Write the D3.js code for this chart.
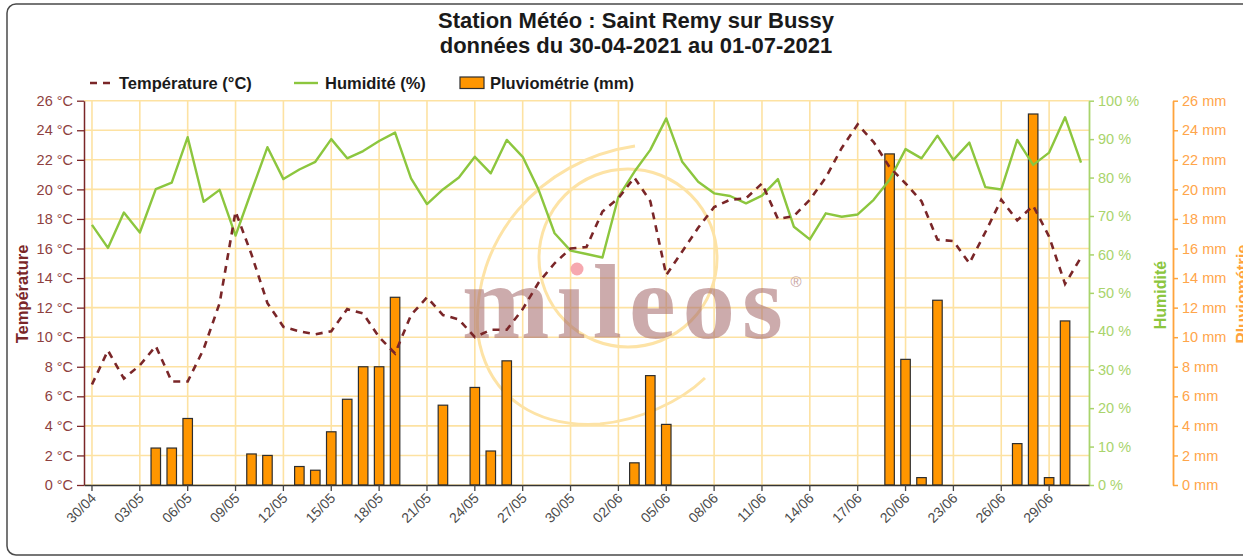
<!DOCTYPE html>
<html><head><meta charset="utf-8">
<script src="https://cdn.jsdelivr.net/npm/d3@7/dist/d3.min.js"></script>
<style>
body{margin:0;background:#fff;overflow:hidden}
svg{display:block}
text{font-family:"Liberation Sans",Arial,sans-serif}
</style>
</head><body>
<svg id="c" width="1243" height="557"></svg>
<script>
const dates = ["30/04","01/05","02/05","03/05","04/05","05/05","06/05","07/05","08/05","09/05",
"10/05","11/05","12/05","13/05","14/05","15/05","16/05","17/05","18/05","19/05",
"20/05","21/05","22/05","23/05","24/05","25/05","26/05","27/05","28/05","29/05",
"30/05","31/05","01/06","02/06","03/06","04/06","05/06","06/06","07/06","08/06",
"09/06","10/06","11/06","12/06","13/06","14/06","15/06","16/06","17/06","18/06",
"19/06","20/06","21/06","22/06","23/06","24/06","25/06","26/06","27/06","28/06",
"29/06","30/06","01/07"];
const xTickDates = ["30/04","03/05","06/05","09/05","12/05","15/05","18/05","21/05","24/05","27/05",
"30/05","02/06","05/06","08/06","11/06","14/06","17/06","20/06","23/06","26/06","29/06"];
const temperature = [6.8,9.1,7.2,8.1,9.4,7.0,7.0,9.2,12.3,18.5,
15.6,12.3,10.7,10.4,10.2,10.4,11.9,11.6,10.0,8.9,
11.5,12.7,11.5,11.2,10.0,10.5,10.5,11.9,13.7,15.0,
16.0,16.1,18.5,19.4,20.8,19.2,14.2,15.8,17.4,18.8,
19.3,19.4,20.4,18.0,18.2,19.3,20.8,22.8,24.4,23.2,
21.5,20.4,19.2,16.6,16.5,15.0,17.1,19.3,17.9,18.9,
16.8,13.6,15.4];
const humidity = [67.7,61.7,70.9,65.7,77.0,78.7,90.5,73.7,76.8,64.9,
76.5,87.9,79.6,82.1,84.1,90.0,85.0,86.9,89.5,91.7,
79.8,73.1,76.9,80.0,85.4,81.1,89.8,85.4,76.8,65.5,
61.0,60.1,59.2,75.0,81.5,87.2,95.4,84.1,78.9,75.9,
75.2,73.3,75.3,79.6,67.2,63.9,70.7,69.8,70.4,74.2,
79.4,87.4,85.0,90.9,84.6,89.1,77.5,76.9,89.8,83.3,
86.5,95.7,83.9];
const rain = [0,0,0,0,2.5,2.5,4.5,0,0,0,
2.1,2.0,0,1.25,1.0,3.6,5.8,8.0,8.0,12.7,
0,0,5.4,0,6.6,2.3,8.4,0,0,0,
0,0,0,0,1.5,7.4,4.1,0,0,0,
0,0,0,0,0,0,0,0,0,0,
22.4,8.5,0.5,12.5,0,0,0,0,2.8,25.1,
0.5,11.1,0];
const tempTicks = [0,2,4,6,8,10,12,14,16,18,20,22,24,26];
const humTicks = [0,10,20,30,40,50,60,70,80,90,100];
const rainTicks = [0,2,4,6,8,10,12,14,16,18,20,22,24,26];
const titleLines = ["Station Météo : Saint Remy sur Bussy","données du 30-04-2021 au 01-07-2021"];

const svg = d3.select("#c");
const L = 84, R = 1089, T = 100.7, B = 485;
const x = d3.scaleBand().domain(dates).range([L, R]).padding(0);
const cx = d => x(d) + x.bandwidth() / 2;
const yT = d3.scaleLinear().domain([0, 26]).range([B, T]);
const yH = d3.scaleLinear().domain([0, 100]).range([B, T]);
const yR = d3.scaleLinear().domain([0, 26]).range([B, T]);

// outer frame
svg.append("rect").attr("x", 7).attr("y", 4).attr("width", 1260).attr("height", 551)
  .attr("rx", 9).attr("fill", "none").attr("stroke", "#4a4a4a").attr("stroke-width", 1.5);

// title
svg.append("g").selectAll("text").data(titleLines).join("text")
  .attr("x", 636).attr("y", (d, i) => 28 + i * 25).attr("text-anchor", "middle")
  .attr("font-size", 22).attr("font-weight", "bold").attr("fill", "#1a1a1a").text(d => d);

// grid
const grid = svg.append("g");
grid.selectAll("line.h").data(tempTicks).join("line").attr("class", "h")
  .attr("x1", L).attr("x2", R).attr("y1", d => yT(d)).attr("y2", d => yT(d))
  .attr("stroke", "#fde2a2").attr("stroke-width", 1.6);
grid.selectAll("line.v").data(xTickDates).join("line").attr("class", "v")
  .attr("x1", d => cx(d)).attr("x2", d => cx(d)).attr("y1", T).attr("y2", B)
  .attr("stroke", "#fde2a2").attr("stroke-width", 1.6);

// watermark (semi-transparent logo)
const wm = svg.append("g");
wm.append("circle").attr("cx", 628).attr("cy", 258).attr("r", 89)
  .attr("fill", "none").attr("stroke", "#fde3a6").attr("stroke-width", 3);
wm.append("path").attr("d", "M635,146 C540,160 470,240 478,335 C488,400 540,428 600,424 C640,420 680,402 705,378")
  .attr("fill", "none").attr("stroke", "#fde3a6").attr("stroke-width", 3);
wm.append("text").attr("x", 626).attr("y", 338).attr("text-anchor", "middle")
  .style("font-family", "'Liberation Serif', 'DejaVu Serif', serif").style("font-weight", "bold")
  .attr("font-size", 105).attr("letter-spacing", 7)
  .attr("fill", "#a76f70").attr("fill-opacity", 0.58).text("m\u0131leos");
wm.append("circle").attr("cx", 577).attr("cy", 269).attr("r", 6.5).attr("fill", "#f59ea6").attr("fill-opacity", 0.9);
wm.append("text").attr("x", 796).attr("y", 287).attr("text-anchor", "middle")
  .attr("font-size", 15).attr("fill", "#c8a4a4").text("®");

// bars
const bw = 9.5;
svg.append("g").selectAll("rect").data(dates.map((d, i) => ({d, v: rain[i]})).filter(o => o.v > 0))
  .join("rect")
  .attr("x", o => cx(o.d) - bw / 2).attr("width", bw)
  .attr("y", o => yR(o.v)).attr("height", o => B - yR(o.v))
  .attr("fill", "#ff9600").attr("stroke", "#2e2e2e").attr("stroke-width", 1.2);

// humidity line
svg.append("path").datum(humidity)
  .attr("d", d3.line().x((v, i) => cx(dates[i])).y(v => yH(v)))
  .attr("fill", "none").attr("stroke", "#8cc63e").attr("stroke-width", 2.4).attr("stroke-linejoin", "round");

// temperature line
svg.append("path").datum(temperature)
  .attr("d", d3.line().x((v, i) => cx(dates[i])).y(v => yT(v)))
  .attr("fill", "none").attr("stroke", "#7a2628").attr("stroke-width", 2.6)
  .attr("stroke-dasharray", "7,6");

// left axis
const axL = svg.append("g").attr("transform", `translate(${L},0)`)
  .call(d3.axisLeft(yT).tickValues(tempTicks).tickFormat(d => d + " °C").tickSize(7).tickSizeOuter(0).tickPadding(4));
axL.select(".domain").attr("stroke", "#7a2628").attr("stroke-width", 1.5);
axL.selectAll(".tick line").attr("stroke", "#7a2628").attr("stroke-width", 1.3);
axL.selectAll(".tick text").attr("fill", "#8e3f3f").attr("font-size", 14.5).attr("font-family", null);

// humidity axis
const axH = svg.append("g").attr("transform", `translate(${R},0)`)
  .call(d3.axisRight(yH).tickValues(humTicks).tickFormat(d => d + " %").tickSize(5).tickSizeOuter(0).tickPadding(4));
axH.select(".domain").attr("stroke", "#a9d46c").attr("stroke-width", 1.8);
axH.selectAll(".tick line").attr("stroke", "#a9d46c").attr("stroke-width", 1.5);
axH.selectAll(".tick text").attr("fill", "#a9d46c").attr("font-size", 14.5).attr("font-family", null);

// rain axis
const axR = svg.append("g").attr("transform", `translate(1173,0)`)
  .call(d3.axisRight(yR).tickValues(rainTicks).tickFormat(d => d + " mm").tickSize(5).tickSizeOuter(0).tickPadding(4));
axR.select(".domain").attr("stroke", "#ffa43c").attr("stroke-width", 1.8);
axR.selectAll(".tick line").attr("stroke", "#ffa43c").attr("stroke-width", 1.5);
axR.selectAll(".tick text").attr("fill", "#ffa54a").attr("font-size", 14.5).attr("font-family", null);

// bottom axis
const axB = svg.append("g").attr("transform", `translate(0,${B})`)
  .call(d3.axisBottom(x).tickValues(xTickDates).tickSize(6).tickSizeOuter(0));
axB.select(".domain").attr("stroke", "#333").attr("stroke-width", 1.5);
axB.selectAll(".tick line").attr("stroke", "#444").attr("stroke-width", 1.3);
axB.selectAll(".tick text").attr("fill", "#4a4a4a").attr("font-size", 14).attr("font-family", null)
  .attr("text-anchor", "end").attr("dy", 0).attr("y", 0)
  .attr("transform", "translate(5,14) rotate(-45)");

// axis titles
svg.append("text").attr("transform", "translate(28,294) rotate(-90)").attr("text-anchor", "middle")
  .attr("font-size", 16.5).attr("font-weight", "bold").attr("fill", "#7a2628").text("Température");
svg.append("text").attr("transform", "translate(1166,295) rotate(-90)").attr("text-anchor", "middle")
  .attr("font-size", 16).attr("font-weight", "bold").attr("fill", "#8cc63e").text("Humidité");
svg.append("text").attr("transform", "translate(1248,294) rotate(-90)").attr("text-anchor", "middle")
  .attr("font-size", 16.5).attr("font-weight", "bold").attr("fill", "#ffa43c").text("Pluviométrie");

// legend
const lg = svg.append("g");
lg.append("line").attr("x1", 90).attr("x2", 111).attr("y1", 83).attr("y2", 83)
  .attr("stroke", "#7a2628").attr("stroke-width", 2.6).attr("stroke-dasharray", "7,6");
lg.append("text").attr("x", 119).attr("y", 89).attr("font-size", 16.5).attr("font-weight", "bold").attr("fill", "#1a1a1a").text("Température (°C)");
lg.append("line").attr("x1", 294).attr("x2", 318).attr("y1", 83).attr("y2", 83)
  .attr("stroke", "#8cc63e").attr("stroke-width", 2.4);
lg.append("text").attr("x", 325).attr("y", 89).attr("font-size", 16.5).attr("font-weight", "bold").attr("fill", "#1a1a1a").text("Humidité (%)");
lg.append("rect").attr("x", 460).attr("y", 77).attr("width", 24).attr("height", 11.5)
  .attr("fill", "#ff9600").attr("stroke", "#2e2e2e").attr("stroke-width", 1.2);
lg.append("text").attr("x", 490).attr("y", 89).attr("font-size", 16.5).attr("font-weight", "bold").attr("fill", "#1a1a1a").text("Pluviométrie (mm)");
</script>
</body></html>
